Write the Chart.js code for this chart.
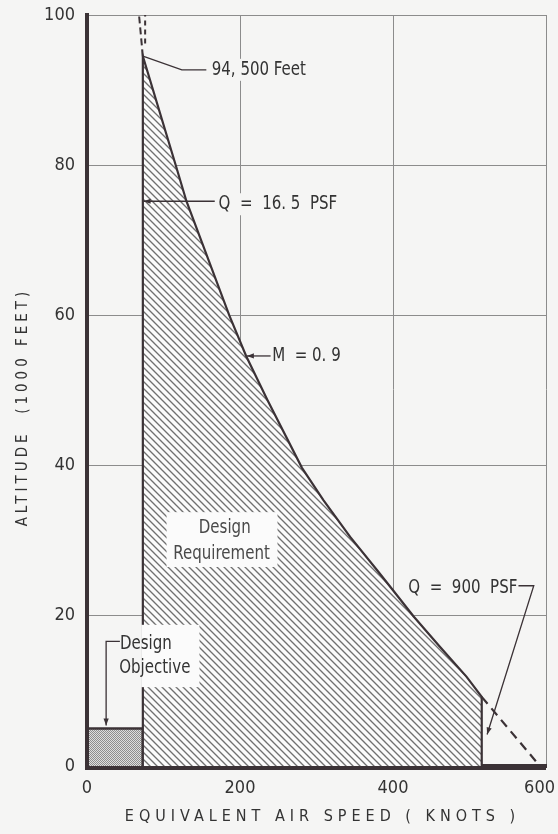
<!DOCTYPE html>
<html>
<head>
<meta charset="utf-8">
<script src="https://cdn.jsdelivr.net/npm/chart.js@4.4.0/dist/chart.umd.min.js"></script>
<style>
  html, body { margin: 0; padding: 0; background: #f5f5f4; }
  #wrap { width: 558px; height: 834px; }
</style>
</head>
<body>
<div id="wrap"><canvas id="c" width="558" height="834"></canvas></div>
<script>
// ---------- data (knots, 1000 ft) ----------
const speedTicks = [0, 200, 400, 600];
const altitudeTicks = [0, 20, 40, 60, 80, 100];

// Design requirement envelope: Q = 16.5 PSF edge, M = 0.9 curve, Q = 900 PSF edge
const boundarySpeed = [73, 73, 116, 130, 186, 208, 236, 281, 309, 344, 379, 400, 427, 461, 496, 516, 516];
const boundaryAlt   = [0, 94.5, 80, 75.2, 60, 54.6, 48.7, 39.7, 35.4, 30.5, 26.1, 23.4, 19.9, 15.9, 11.9, 9.2, 0];

// Design objective box
const objectiveSpeed = [0, 0, 73, 73];
const objectiveAlt   = [0, 5, 5, 0];

// Dashed continuations
const machExtSpeed = [516, 592];
const machExtAlt   = [9.2, 0];
const topExtSpeed  = [73, 68];
const topExtAlt    = [94.5, 100];
const qLowExtSpeed = [76, 76];
const qLowExtAlt   = [96.2, 100];

const xTitle = 'EQUIVALENT AIR SPEED ( KNOTS )';
const yTitle = 'ALTITUDE  (1000 FEET)';

// annotation texts with anchors in data units
const notes = [
  { text: '94, 500 Feet', x: 163, y: 92.7, align: 'left', mask: true },
  { text: 'Q  =  16. 5  PSF', x: 172, y: 74.8, align: 'left', mask: true },
  { text: 'M  = 0. 9', x: 242, y: 54.6, align: 'left', mask: false },
  { text: 'Q  =  900  PSF', x: 420, y: 23.7, align: 'left', mask: false },
  { text: 'Design', x: 43, y: 16.3, align: 'left', mask: false },
  { text: 'Objective', x: 42, y: 13.1, align: 'left', mask: false },
  { text: 'Design', x: 180, y: 31.7, align: 'center', mask: false, light: true },
  { text: 'Requirement', x: 176, y: 28.2, align: 'center', mask: false, light: true }
];
// leader lines (data units); arrow = draw arrowhead at last point
const leaders = [
  { pts: [[74, 94.5], [124, 92.7], [156, 92.7]], arrow: false },
  { pts: [[167, 75.2], [74, 75.2]], arrow: true },
  { pts: [[240, 54.6], [209, 54.6]], arrow: true },
  { pts: [[564, 24.0], [584, 24.0], [523, 4.2]], arrow: true },
  { pts: [[43, 16.6], [25, 16.6], [25, 5.4]], arrow: true }
];
// white cut-outs in the hatching behind labels (data units)
const cutouts = [
  { x0: 104, x1: 249, y0: 26.5, y1: 33.8 },
  { x0: 71, x1: 147, y0: 10.5, y1: 18.8 }
];

const toPts = (xs, ys) => xs.map((v, i) => ({ x: v, y: ys[i] }));

// ---------- patterns ----------
function hatchPattern() {
  const s = 7, c = document.createElement('canvas');
  c.width = s; c.height = s;
  const g = c.getContext('2d');
  g.fillStyle = '#fbfbfb'; g.fillRect(0, 0, s, s);
  g.strokeStyle = '#707070'; g.lineWidth = 1.35;
  g.beginPath();
  g.moveTo(-1, -1); g.lineTo(s + 1, s + 1);
  g.moveTo(-1, s - 1); g.lineTo(1, s + 1);
  g.moveTo(s - 1, -1); g.lineTo(s + 1, 1);
  g.stroke();
  return g.createPattern(c, 'repeat');
}
function stipplePattern() {
  const c = document.createElement('canvas');
  c.width = 2; c.height = 2;
  const g = c.getContext('2d');
  g.fillStyle = '#dedede'; g.fillRect(0, 0, 2, 2);
  g.fillStyle = '#8e8e8e'; g.fillRect(0, 0, 1, 1); g.fillRect(1, 1, 1, 1);
  return g.createPattern(c, 'repeat');
}

const FONT = '"Liberation Sans Narrow", "DejaVu Sans Condensed", "Arial Narrow", sans-serif';
const INK = '#3b3236';
const TEXT = '#333333';
const SQUEEZE = 0.88;

// ---------- annotation plugin ----------
const notesPlugin = {
  id: 'notes',
  afterDatasetsDraw(chart) {
    const { ctx, chartArea } = chart;
    const sx = chart.scales.x, sy = chart.scales.y;
    const px = v => sx.getPixelForValue(v), py = v => sy.getPixelForValue(v);
    ctx.save();
    // thick axis lines on top of the fills
    ctx.strokeStyle = INK; ctx.lineWidth = 4;
    ctx.beginPath();
    ctx.moveTo(chartArea.left, chartArea.top - 1);
    ctx.lineTo(chartArea.left, chartArea.bottom + 2);
    ctx.lineTo(chartArea.right, chartArea.bottom + 2);
    ctx.stroke();
    // cut-outs
    ctx.fillStyle = '#fbfbfb';
    cutouts.forEach(m => {
      ctx.fillRect(px(m.x0), py(m.y1), px(m.x1) - px(m.x0), py(m.y0) - py(m.y1));
    });
    // texts
    ctx.font = '19px ' + FONT;
    ctx.textBaseline = 'middle';
    notes.forEach(n => {
      const w = ctx.measureText(n.text).width * SQUEEZE;
      const x = px(n.x), y = py(n.y);
      const left = n.align === 'center' ? x - w / 2 : x;
      if (n.mask) {
        ctx.fillStyle = '#f5f5f4';
        ctx.fillRect(left - 3, y - 11, w + 6, 22);
      }
      ctx.fillStyle = n.light ? '#4a4a4a' : TEXT;
      ctx.save();
      ctx.translate(left, y);
      ctx.scale(SQUEEZE, 1);
      ctx.textAlign = 'left';
      ctx.fillText(n.text, 0, 0);
      ctx.restore();
    });
    // leaders
    ctx.strokeStyle = INK; ctx.fillStyle = INK; ctx.lineWidth = 1.3;
    leaders.forEach(l => {
      const p = l.pts.map(q => [px(q[0]), py(q[1])]);
      ctx.beginPath();
      ctx.moveTo(p[0][0], p[0][1]);
      for (let i = 1; i < p.length; i++) ctx.lineTo(p[i][0], p[i][1]);
      ctx.stroke();
      if (l.arrow) {
        const a = p[p.length - 1], b = p[p.length - 2];
        const ang = Math.atan2(a[1] - b[1], a[0] - b[0]);
        const L = 7, W = 2.6;
        ctx.beginPath();
        ctx.moveTo(a[0], a[1]);
        ctx.lineTo(a[0] - L * Math.cos(ang) + W * Math.sin(ang), a[1] - L * Math.sin(ang) - W * Math.cos(ang));
        ctx.lineTo(a[0] - L * Math.cos(ang) - W * Math.sin(ang), a[1] - L * Math.sin(ang) + W * Math.cos(ang));
        ctx.closePath();
        ctx.fill();
      }
    });
    ctx.restore();
  },
  afterDraw(chart) {
    const { ctx, chartArea } = chart;
    const sx = chart.scales.x;
    ctx.save();
    ctx.fillStyle = TEXT;
    ctx.textBaseline = 'middle';
    // x tick labels (kept inside the canvas)
    ctx.font = '18px ' + FONT;
    ctx.textAlign = 'left';
    speedTicks.forEach(v => {
      const t = String(v);
      const w = ctx.measureText(t).width;
      let left = sx.getPixelForValue(v) - w / 2;
      left = Math.min(left, chart.width - 3 - w);
      ctx.fillText(t, left, 788);
    });
    ctx.textAlign = 'center';
    // x title
    ctx.font = '16px ' + FONT;
    ctx.letterSpacing = '5px';
    ctx.fillText(xTitle, (chartArea.left + chartArea.right) / 2 + 6, 817);
    // y title
    ctx.font = '15px ' + FONT;
    ctx.letterSpacing = '4px';
    ctx.translate(23, 407);
    ctx.rotate(-Math.PI / 2);
    ctx.fillText(yTitle, 0, 0);
    ctx.restore();
  }
};

const hatch = hatchPattern();
const stipple = stipplePattern();

new Chart(document.getElementById('c'), {
  type: 'line',
  data: {
    datasets: [
      {
        label: 'Design Requirement',
        data: toPts(boundarySpeed, boundaryAlt),
        borderColor: INK, borderWidth: 2.2,
        backgroundColor: hatch, fill: 'origin',
        pointRadius: 0, tension: 0
      },
      {
        label: 'Design Objective',
        data: toPts(objectiveSpeed, objectiveAlt),
        borderColor: INK, borderWidth: 2.6,
        backgroundColor: stipple, fill: 'origin',
        pointRadius: 0, tension: 0
      },
      {
        label: 'M = 0.9 (continued)',
        data: toPts(machExtSpeed, machExtAlt),
        borderColor: INK, borderWidth: 2.2, borderDash: [9, 6],
        fill: false, pointRadius: 0
      },
      {
        label: 'M = 0.9 (above)',
        data: toPts(topExtSpeed, topExtAlt),
        borderColor: INK, borderWidth: 2, borderDash: [7, 4],
        fill: false, pointRadius: 0
      },
      {
        label: 'Q = 16.5 (above)',
        data: toPts(qLowExtSpeed, qLowExtAlt),
        borderColor: INK, borderWidth: 2, borderDash: [5, 4],
        fill: false, pointRadius: 0
      }
    ]
  },
  options: {
    responsive: false,
    animation: false,
    layout: { padding: { top: 15, right: 12, left: 0, bottom: 0 } },
    plugins: { legend: { display: false }, tooltip: { enabled: false } },
    scales: {
      x: {
        type: 'linear', min: 0, max: 600,
        afterBuildTicks: s => { s.ticks = speedTicks.map(v => ({ value: v })); },
        afterFit: s => { s.height = 68; s.paddingLeft = 0; s.paddingRight = 0; },
        grid: { color: '#8c8c8c', lineWidth: 1, drawTicks: false },
        border: { color: INK, width: 4 },
        ticks: { display: false }
      },
      y: {
        type: 'linear', min: 0, max: 100,
        afterBuildTicks: s => { s.ticks = altitudeTicks.map(v => ({ value: v })); },
        afterFit: s => { s.width = 87; s.paddingTop = 0; s.paddingBottom = 0; },
        grid: { color: '#8c8c8c', lineWidth: 1, drawTicks: false },
        border: { color: INK, width: 4 },
        ticks: { padding: 12, color: TEXT, font: { family: FONT, size: 18 } }
      }
    }
  },
  plugins: [notesPlugin]
});
</script>
</body>
</html>
